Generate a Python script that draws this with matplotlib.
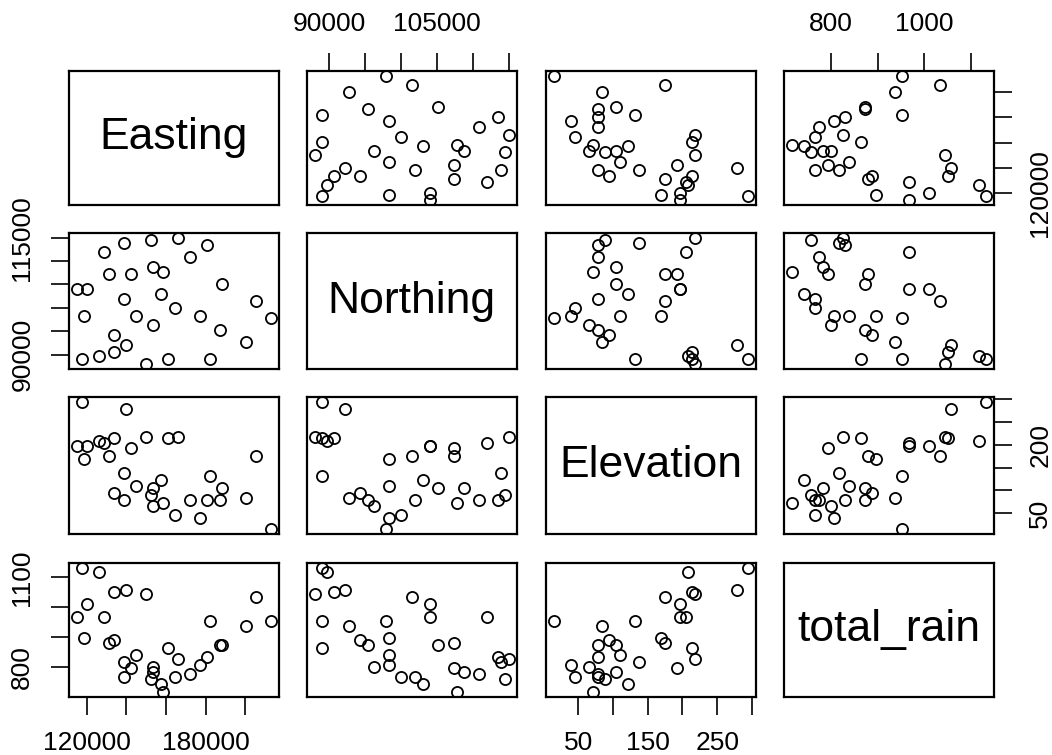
import numpy as np
import matplotlib
matplotlib.use('Agg')
import matplotlib.pyplot as plt

plt.rcParams['font.family'] = ['Liberation Sans', 'DejaVu Sans']

# rain gauge data
easting = [114910, 117455, 118626, 120305, 126261, 128449, 131351, 133539,
           133896, 138629, 138629, 140004, 142396, 144941, 149827, 152220,
           153594, 153594, 157310, 158480, 160720, 164588, 165810, 172071,
           177008, 180571, 181894, 186984, 188206, 200218, 205308, 212791]
northing = [104035, 89078, 98334, 104035, 89644, 111868, 107310, 90641,
            94274, 113866, 101967, 92137, 107310, 98334, 88006, 114433,
            96270, 108734, 103036, 107737, 89078, 99972, 114930, 110800,
            98334, 113436, 89078, 95342, 105100, 92707, 101540, 97835]
elevation = [197, 294, 169, 197, 208, 205, 175, 214,
             95, 137, 78, 279, 192, 110, 218, 89,
             66, 105, 122, 72, 214, 45, 218, 78,
             40, 78, 132, 78, 105, 84, 175, 15]
total_rain = [968, 1132, 896, 1011, 1117, 968, 879, 1051,
              888, 817, 766, 1058, 794, 839, 1044, 757,
              800, 783, 742, 716, 864, 766, 825, 775,
              806, 831, 953, 872, 872, 937, 1034, 953]

names = ['Easting', 'Northing', 'Elevation', 'total_rain']
data = [easting, northing, elevation, total_rain]

ticks = [[120000, 140000, 160000, 180000, 200000],
         [90000, 95000, 100000, 105000, 110000, 115000],
         [50, 100, 150, 200, 250, 300],
         [800, 900, 1000, 1100]]
# which tick labels R managed to print on each outer side
x_shown = [[120000, 180000], [90000, 105000], [50, 150, 250], [800, 1000]]
y_shown = [[120000], [90000, 115000], [50, 200], [800, 1100]]

W, H = 1052.0, 755.0
col_left = [69, 307, 546, 784]
col_w = 209.5
row_top = [71, 233, 397, 563]
row_h = [133.5, 136, 137, 133.5]

def lims(v):
    lo, hi = min(v), max(v)
    r = hi - lo
    return lo - 0.04 * r, hi + 0.04 * r

fig = plt.figure(figsize=(W / 100, H / 100), dpi=100)

for i in range(4):      # row -> y variable
    for j in range(4):  # col -> x variable
        ax = fig.add_axes([col_left[j] / W, 1 - (row_top[i] + row_h[i]) / H,
                           col_w / W, row_h[i] / H])
        for s in ax.spines.values():
            s.set_linewidth(1.6)
        if i == j:
            ax.text(0.5, 0.5, names[i], transform=ax.transAxes,
                    ha='center', va='center', fontsize=32)
        else:
            ax.plot(data[j], data[i], 'o', mfc='none', mec='black',
                    ms=8, mew=1.3)

        ax.set_xticks([])
        ax.set_yticks([])
        # x axis: bottom for columns 0, 2, top for 1, 3
        if (i == 3 and j % 2 == 0) or (i == 0 and j % 2 == 1):
            ax.set_xticks(ticks[j])
            ax.set_xticklabels([str(t) if t in x_shown[j] else '' for t in ticks[j]])
            if i == 0:
                ax.xaxis.set_ticks_position('top')
            ax.tick_params(axis='x', length=13, width=1.2, pad=12, labelsize=19)
        # y axis: left for rows 1, 3, right for rows 0, 2
        if (j == 0 and i % 2 == 1) or (j == 3 and i % 2 == 0):
            ax.set_yticks(ticks[i])
            ax.set_yticklabels([str(t) if t in y_shown[i] else '' for t in ticks[i]])
            if j == 3:
                ax.yaxis.set_ticks_position('right')
            ax.tick_params(axis='y', length=13, width=1.2, pad=12, labelsize=19)
            for lbl in ax.get_yticklabels():
                lbl.set_rotation(90)
                lbl.set_va('center')
        ax.set_xlim(lims(data[j]))
        ax.set_ylim(lims(data[i]))

fig.savefig('out.png', dpi=100)
